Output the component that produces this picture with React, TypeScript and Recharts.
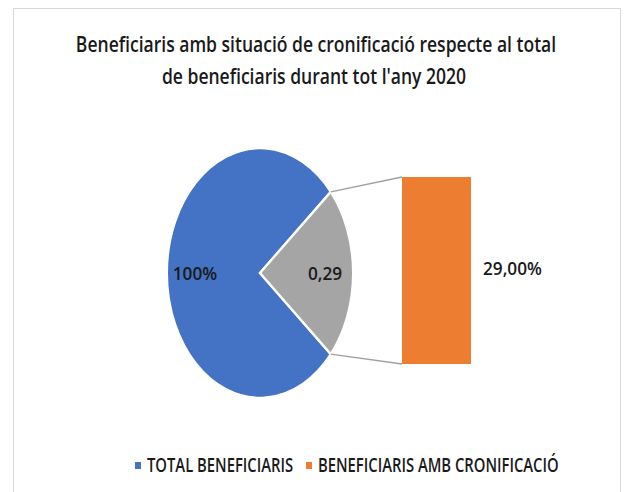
import React from 'react';
import { PieChart, Pie, Cell, BarChart, Bar, XAxis, YAxis, LabelList } from 'recharts';

// ---- data ----
const titleLines = ['Beneficiaris amb situació de cronificació respecte al total', "de beneficiaris durant tot l'any 2020"];
const pieNames = ['TOTAL BENEFICIARIS', 'ALTRES'];
const pieValues = [1, 0.29];
const pieLabels = ['100%', '0,29'];
const barNames = ['BENEFICIARIS AMB CRONIFICACIÓ'];
const barValues = [0.29];
const barLabels = ['29,00%'];
const legendNames = ['TOTAL BENEFICIARIS', 'BENEFICIARIS AMB CRONIFICACIÓ'];

const BLUE = '#4472C4';
const GRAY = '#A5A5A5';
const ORANGE = '#ED7D31';
const pieColors = [BLUE, GRAY];
const legendColors = [BLUE, ORANGE];
const FONT = "'Open Sans', 'Noto Sans', sans-serif";
const WEIGHT = 600;
const TEXT = '#1a1a1a';
const SX = 0.82;
const SX_TITLE = 0.835;
const SX_LEGEND = 0.78;

const W = 627;
const H = 492;
const CX = 260;
const CY = 273;
const R = 93;
const YS = 125 / 93;

const pieData = pieNames.map((name, i) => ({ name, value: pieValues[i], label: pieLabels[i] }));
const barData = barNames.map((name, i) => ({ name, value: barValues[i], label: barLabels[i] }));
const total = pieValues.reduce((a, b) => a + b, 0);
const half = (180 * pieValues[1]) / total;
const RAD = Math.PI / 180;

const renderPieLabel = (p: any) => {
  const r = p.outerRadius * 0.7;
  const x = p.cx + r * Math.cos(-p.midAngle * RAD);
  const y = p.cy + r * Math.sin(-p.midAngle * RAD);
  return (
    <text
      transform={`translate(${x} ${y}) scale(${SX} ${SX / YS})`}
      x={0}
      y={0}
      textAnchor="middle"
      dominantBaseline="central"
      fontFamily={FONT}
      fontWeight={WEIGHT}
      fontSize={21}
      fill={TEXT}
    >
      {p.payload.label}
    </text>
  );
};

const renderBarLabel = (p: any) => {
  const x = p.x + p.width + 12;
  const y = p.y + p.height / 2 - 2;
  return (
    <text
      transform={`translate(${x} ${y}) scale(${SX} ${SX})`}
      x={0}
      y={0}
      textAnchor="start"
      dominantBaseline="central"
      fontFamily={FONT}
      fontWeight={WEIGHT}
      fontSize={21}
      fill={TEXT}
    >
      {p.value}
    </text>
  );
};

const BarWithConnectors = (p: any) => {
  const { x, y, width, height, fill } = p;
  const ex = CX + R * Math.cos(half * RAD);
  const eyTop = CY - R * YS * Math.sin(half * RAD);
  const eyBot = CY + R * YS * Math.sin(half * RAD);
  return (
    <g>
      <line x1={ex} y1={eyTop} x2={x} y2={y} stroke="#a0a0a0" strokeWidth={1.5} />
      <line x1={ex} y1={eyBot} x2={x} y2={y + height} stroke="#a0a0a0" strokeWidth={1.5} />
      <rect x={x} y={y} width={width} height={height} fill={fill} />
    </g>
  );
};

const SText = ({ x, y, sx, anchor, size, children }: any) => (
  <text
    transform={`translate(${x} ${y}) scale(${sx} 1)`}
    x={0}
    y={0}
    textAnchor={anchor}
    fontFamily={FONT}
    fontWeight={WEIGHT}
    fontSize={size}
    fill={TEXT}
  >
    {children}
  </text>
);

export default function App() {
  return (
    <div style={{ position: 'absolute', left: 0, top: 0, width: W, height: H, background: '#fff', overflow: 'hidden' }}>
      <div
        style={{
          position: 'absolute',
          left: 13,
          top: 8,
          width: 608,
          height: 492,
          border: '1.5px solid #d9d9d9',
          boxSizing: 'border-box',
        }}
      />
      <div
        style={{
          position: 'absolute',
          left: 0,
          top: 0,
          width: W,
          height: H,
          transform: `scaleY(${YS})`,
          transformOrigin: `${CX}px ${CY}px`,
        }}
      >
        <PieChart width={W} height={H} margin={{ top: 0, right: 0, bottom: 0, left: 0 }}>
          <Pie
            data={pieData}
            dataKey="value"
            nameKey="name"
            cx={CX}
            cy={CY}
            outerRadius={R}
            startAngle={half}
            endAngle={half + 360}
            stroke="#ffffff"
            strokeWidth={2}
            label={renderPieLabel}
            labelLine={false}
            isAnimationActive={false}
          >
            {pieData.map((d, i) => (
              <Cell key={d.name} fill={pieColors[i]} />
            ))}
          </Pie>
        </PieChart>
      </div>
      <div style={{ position: 'absolute', left: 0, top: 0, width: W, height: H }}>
        <BarChart
          width={W}
          height={H}
          data={barData}
          margin={{ top: 177, right: 156, bottom: 128, left: 402 }}
          barCategoryGap={0}
        >
          <XAxis dataKey="name" hide />
          <YAxis hide domain={[0, 'dataMax']} />
          <Bar dataKey="value" fill={ORANGE} shape={BarWithConnectors} isAnimationActive={false}>
            <LabelList dataKey="label" content={renderBarLabel} />
          </Bar>
        </BarChart>
      </div>
      <svg style={{ position: 'absolute', left: 0, top: 0 }} width={W} height={H}>
        <SText x={316} y={52} sx={SX_TITLE} anchor="middle" size={21}>
          {titleLines[0]}
        </SText>
        <SText x={314} y={84} sx={SX_TITLE} anchor="middle" size={21}>
          {titleLines[1]}
        </SText>
        <g>
          <rect x={135} y={462} width={6} height={7} fill={legendColors[0]} />
          <SText x={147} y={472} sx={SX_LEGEND} anchor="start" size={19}>
            {legendNames[0]}
          </SText>
          <rect x={306} y={462} width={6} height={7} fill={legendColors[1]} />
          <SText x={318} y={472} sx={SX_LEGEND} anchor="start" size={19}>
            {legendNames[1]}
          </SText>
        </g>
      </svg>
    </div>
  );
}
